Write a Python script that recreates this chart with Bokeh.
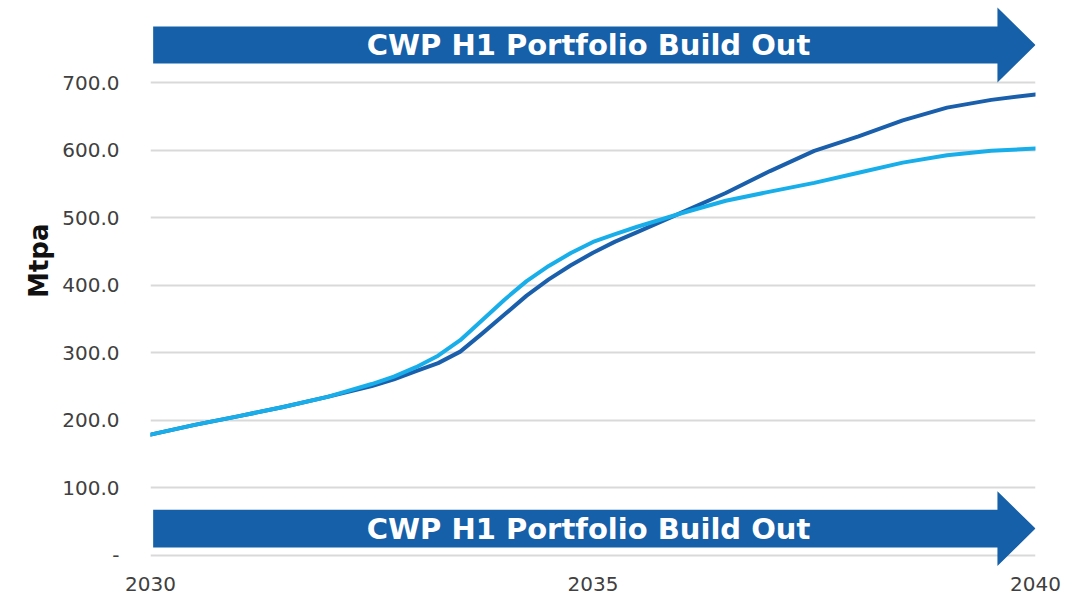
from bokeh.plotting import figure
from bokeh.models import FixedTicker, NumeralTickFormatter, Range1d, ColumnDataSource, Title
from bokeh.core.properties import value
from bokeh.embed import file_html
from bokeh.resources import INLINE

# ---- data ----
years = [2030, 2030.5, 2031, 2031.5, 2032, 2032.5, 2032.75, 2033, 2033.25, 2033.5, 2033.75,
         2034, 2034.25, 2034.5, 2034.75, 2035, 2035.25, 2035.5, 2036, 2036.5, 2037, 2037.5,
         2038, 2038.5, 2039, 2039.5, 2040]
series_dark = [179, 193.5, 206.5, 220, 235, 251, 261, 273, 285, 302, 329,
               357, 385, 409, 430, 448.5, 465, 479, 508, 537, 569.5, 599.5,
               621, 644.5, 663.5, 675, 683]
series_light = [179, 193.5, 206.5, 220, 235, 254, 265, 279, 296, 319, 349,
                379, 406.5, 429, 448, 464.5, 476, 487, 507, 525.5, 539, 552,
                567, 582, 593, 599.5, 603]
y_ticks = [0, 100, 200, 300, 400, 500, 600, 700]
x_ticks = [2030, 2035, 2040]
banner_text = "CWP H1 Portfolio Build Out"
y_title = "Mtpa"

# ---- styling ----
DARK = "#1a5fab"
LIGHT = "#18aeea"
ARROW = "#1560a8"

p = figure(width=1079, height=598, output_backend="svg", toolbar_location=None,
           x_range=Range1d(2030, 2040), y_range=Range1d(-17.8, 814.8),
           min_border_left=150, min_border_right=44, min_border_top=5, min_border_bottom=31)
p.outline_line_color = None
p.background_fill_color = "white"
p.border_fill_color = "white"

# grid
p.xgrid.grid_line_color = None
p.ygrid.grid_line_color = "#d9d9d9"
p.ygrid.grid_line_width = 2
p.yaxis.ticker = FixedTicker(ticks=y_ticks)
p.xaxis.ticker = FixedTicker(ticks=x_ticks)

for ax in (p.xaxis, p.yaxis):
    ax.axis_line_color = None
    ax.major_tick_line_color = None
    ax.minor_tick_line_color = None
    ax.major_label_text_font = "DejaVu Sans"
    ax.major_label_text_font_size = "20px"
    ax.major_label_text_color = "#404040"
p.yaxis.formatter = NumeralTickFormatter(format="0.0")
p.yaxis.major_label_overrides = {0: "-"}
p.yaxis.major_label_standoff = 25
p.xaxis.major_label_standoff = 3

# banner arrows (decorations)
def arrow_shape(y_mid, half_body, half_head):
    x0, xb, xt = 2030.03, 2039.57, 2040.0
    xs = [x0, xb, xb, xt, xb, xb, x0]
    ys = [y_mid + half_body, y_mid + half_body, y_mid + half_head, y_mid,
          y_mid - half_head, y_mid - half_body, y_mid - half_body]
    return xs, ys

top_x, top_y = arrow_shape(756.3, 27.4, 55.6)
bot_x, bot_y = arrow_shape(39.8, 28.1, 55.5)
p.patches([top_x, bot_x], [top_y, bot_y], fill_color=ARROW, line_color=None)

p.text(x=[2034.95, 2034.95], y=[756.3, 39.8], text=[banner_text, banner_text],
       text_font=value("DejaVu Sans"), text_font_style="bold", text_font_size="29px",
       text_color="white", text_align="center", text_baseline="middle")

# lines
src = ColumnDataSource(dict(x=years, dark=series_dark, light=series_light))
p.line("x", "dark", source=src, line_color=DARK, line_width=4, line_join="round", line_cap="round")
p.line("x", "light", source=src, line_color=LIGHT, line_width=4, line_join="round", line_cap="round")

# y title
p.add_layout(Title(text=y_title, align="right", offset=218, standoff=12,
                   text_font="DejaVu Sans", text_font_style="bold", text_font_size="26px",
                   text_color="#111111"), "left")

open("out.html", "w").write(file_html(p, INLINE))
